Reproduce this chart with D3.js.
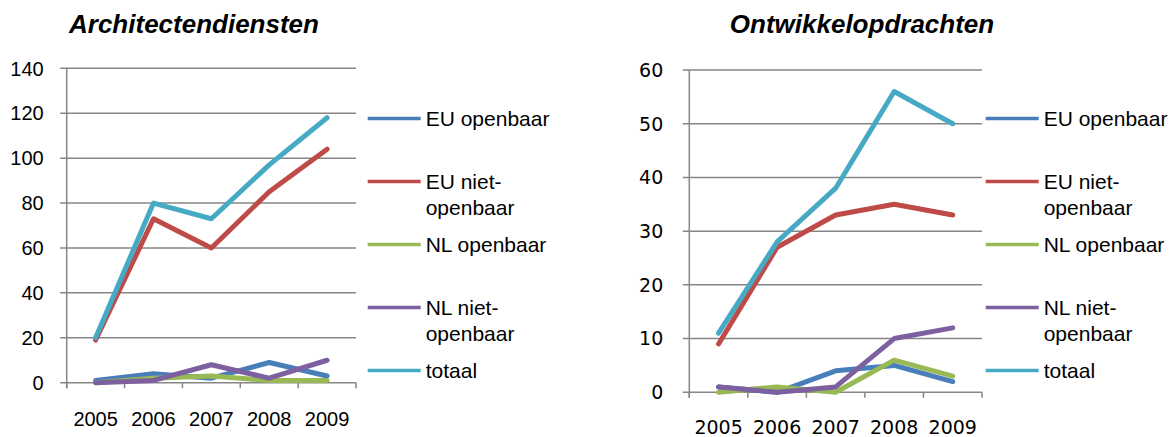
<!DOCTYPE html>
<html><head><meta charset="utf-8">
<script src="https://cdn.jsdelivr.net/npm/d3@7"></script>
<style>body{margin:0;background:#fff}svg{display:block}</style>
</head><body>
<svg id="c" width="1170" height="437"></svg>
<script>
const years = ["2005","2006","2007","2008","2009"];
const seriesNames = ["EU openbaar","EU niet-openbaar","NL openbaar","NL niet-openbaar","totaal"];
const legendLines = [["EU openbaar"],["EU niet-","openbaar"],["NL openbaar"],["NL niet-","openbaar"],["totaal"]];
const colors = ["#4a7ebb","#be4b48","#98b954","#7d60a0","#46aac5"];

const archTitle = "Architectendiensten";
const archEUopen = [1,4,2,9,3];
const archEUniet = [19,73,60,85,104];
const archNLopen = [0,2,3,1,1];
const archNLniet = [0,1,8,2,10];
const archTotaal = [20,80,73,97,118];
const archTicks = [0,20,40,60,80,100,120,140];

const ontTitle = "Ontwikkelopdrachten";
const ontEUopen = [1,0,4,5,2];
const ontEUniet = [9,27,33,35,33];
const ontNLopen = [0,1,0,6,3];
const ontNLniet = [1,0,1,10,12];
const ontTotaal = [11,28,38,56,50];
const ontTicks = [0,10,20,30,40,50,60];

const svg = d3.select("#c");

function drawChart(o){
  const g = svg.append("g");
  const x = d3.scaleBand().domain(years).range([o.x0,o.x1]);
  const y = d3.scaleLinear().domain([0,d3.max(o.ticks)]).range([o.y0,o.y1]);
  // gridlines
  g.append("g").selectAll("line").data(o.ticks).join("line")
    .attr("x1",o.x0-6.5).attr("x2",o.x1)
    .attr("y1",d=>y(d)).attr("y2",d=>y(d))
    .attr("stroke","#868686").attr("stroke-width",1.5);
  // y axis line
  g.append("line").attr("x1",o.x0).attr("x2",o.x0).attr("y1",y(d3.max(o.ticks))).attr("y2",o.y0+5.5)
    .attr("stroke","#868686").attr("stroke-width",1.5);
  // x ticks at band boundaries
  const bounds = years.map(d=>x(d)).concat([o.x1]);
  g.append("g").selectAll("line").data(bounds).join("line")
    .attr("x1",d=>d).attr("x2",d=>d).attr("y1",o.y0).attr("y2",o.y0+5.5)
    .attr("stroke","#868686").attr("stroke-width",1.5);
  // y labels
  g.append("g").selectAll("text").data(o.ticks).join("text")
    .attr("x",o.x0-o.ylabOff).attr("y",d=>y(d)).attr("dy","0.36em")
    .attr("text-anchor","end").attr("font-family",o.axisFont).attr("font-size",o.axisSize)
    .attr("fill","#000").text(d=>d);
  // x labels
  g.append("g").selectAll("text").data(years).join("text")
    .attr("x",d=>x(d)+x.bandwidth()/2).attr("y",o.xlabY)
    .attr("text-anchor","middle").attr("font-family",o.axisFont).attr("font-size",o.axisSize)
    .attr("fill","#000").text(d=>d);
  // lines
  const line = d3.line().x((d,i)=>x(years[i])+x.bandwidth()/2).y(d=>y(d));
  g.append("g").selectAll("path").data(o.series).join("path")
    .attr("d",d=>line(d)).attr("fill","none")
    .attr("stroke",(d,i)=>colors[i]).attr("stroke-width",5)
    .attr("stroke-linejoin","round").attr("stroke-linecap","round");
  // title
  g.append("text").attr("x",o.titleX).attr("y",33).attr("text-anchor","middle")
    .attr("font-family","Liberation Sans, Arial, sans-serif").attr("font-size",26)
    .attr("font-weight","bold").attr("font-style","italic").text(o.title);
  // legend
  const lg = g.append("g");
  legendLines.forEach((lines,i)=>{
    const ly = 118 + i*63;
    lg.append("line").attr("x1",o.legX).attr("x2",o.legX+53).attr("y1",ly+0.5).attr("y2",ly+0.5)
      .attr("stroke",colors[i]).attr("stroke-width",3.5);
    const t = lg.append("text").attr("font-family","Liberation Sans, Arial, sans-serif")
      .attr("font-size",21).attr("fill","#000");
    lines.forEach((s,j)=>{
      t.append("tspan").attr("x",o.legX+58).attr("y",ly+j*26.7).attr("dy","0.36em").text(s);
    });
  });
}

drawChart({
  title: archTitle, titleX: 194,
  series: [archEUopen,archEUniet,archNLopen,archNLniet,archTotaal],
  ticks: archTicks,
  x0: 66.7, x1: 356, y0: 382.7, y1: 68.3,
  ylabOff: 23, xlabY: 426,
  axisFont: "Liberation Sans, Arial, sans-serif", axisSize: 20,
  legX: 367.7
});
drawChart({
  title: ontTitle, titleX: 862,
  series: [ontEUopen,ontEUniet,ontNLopen,ontNLniet,ontTotaal],
  ticks: ontTicks,
  x0: 689.3, x1: 982, y0: 392.3, y1: 70,
  ylabOff: 26, xlabY: 434,
  axisFont: "DejaVu Sans, Verdana, sans-serif", axisSize: 19,
  legX: 985.7
});
</script>
</body></html>
